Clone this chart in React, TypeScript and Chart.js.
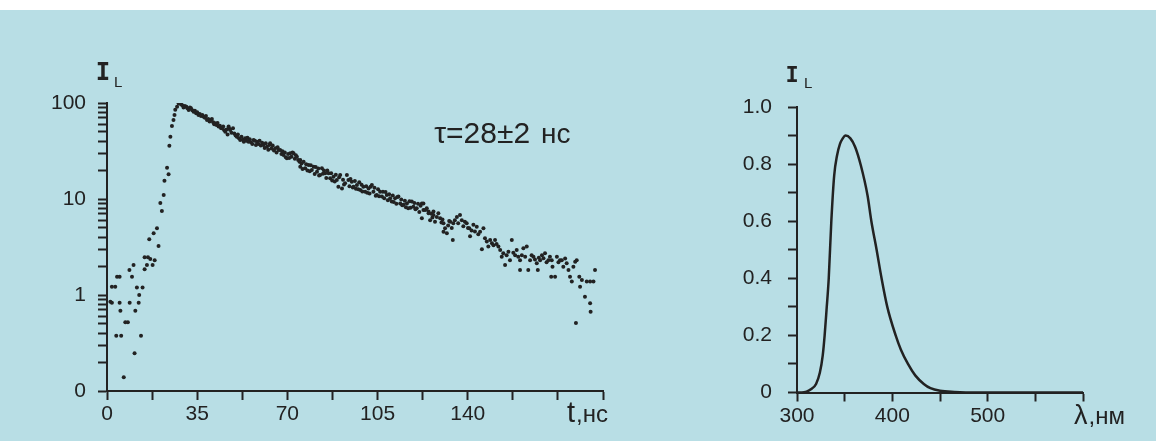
import React, { useEffect, useRef } from 'react';
import { Chart, registerables } from 'chart.js';

Chart.register(...registerables);

// ---------- DATA ----------
// Luminescence decay: [time (ns), intensity I_L]
const risePoints: [number, number][] = [
  [1.3, 0.85], [1.9, 1.22], [1.9, 0.83], [3.2, 1.22], [3.6, 0.377], [3.9, 1.55], [4.9, 1.55], [4.9, 0.83],
  [5.2, 0.686], [5.5, 0.377], [6.5, 0.139], [7.1, 0.52], [8.1, 0.52], [8.7, 1.82], [8.8, 0.83], [9.7, 1.55],
  [10.3, 2.05], [10.7, 0.247], [11.0, 0.686], [11.6, 1.2], [12.3, 0.83], [12.5, 1.0], [13.2, 0.377], [13.8, 1.2],
  [14.6, 2.47], [14.6, 1.85], [15.5, 2.05], [15.9, 2.47], [16.4, 3.8], [16.8, 2.37], [17.7, 2.05], [18.1, 4.4],
  [18.5, 2.3], [19.4, 4.95], [20.0, 3.24], [20.7, 9.1], [21.3, 7.5], [22.0, 11], [22.3, 15.5], [23.3, 21.2],
  [23.9, 18.1], [24.2, 35.8], [24.6, 44.5], [25.2, 57.6], [25.8, 66.6], [26.2, 75], [26.5, 85], [27.2, 91.5],
  [27.8, 99], [28.7, 97],
];

const decayPoints: [number, number][] = [
  [29.2, 95], [29.7, 89.5], [30.2, 93], [30.8, 91.5], [31.2, 88], [31.7, 84.5], [32.2, 90], [32.6, 88],
  [33.1, 84], [33.6, 81], [34.1, 83], [34.6, 78], [35.0, 80], [35.5, 75], [36.0, 77], [36.5, 73],
  [37.0, 75], [37.5, 72], [38.0, 70], [38.4, 73], [38.8, 66.6], [39.3, 68], [39.8, 64], [40.2, 66],
  [40.7, 68], [41.2, 63], [41.6, 60], [42.0, 61.6], [42.5, 59], [42.9, 62], [43.3, 56.9], [43.8, 58],
  [44.2, 55], [44.6, 54.7], [45.1, 57], [45.5, 52], [45.9, 50.3], [46.4, 53], [46.8, 47], [47.2, 57],
  [47.5, 54], [47.8, 52.2], [48.3, 49], [48.9, 54.7], [49.4, 48], [49.9, 46], [50.4, 44.6], [50.8, 47],
  [51.2, 43], [51.7, 41.1], [52.2, 44.5], [52.7, 41.5], [53.1, 39.5], [53.6, 42.9], [54.1, 40.5], [54.5, 43.5],
  [54.9, 39.5], [55.4, 42], [55.9, 39], [56.4, 37.5], [56.9, 41.1], [57.4, 40.5], [57.8, 36.5], [58.2, 39.5],
  [58.7, 37.5], [59.2, 40.5], [59.7, 36], [60.2, 38.5], [60.7, 36.5], [61.2, 34], [61.6, 38], [62.1, 35.1],
  [62.6, 32.5], [63.0, 36.5], [63.3, 38.0], [63.8, 33.5], [64.3, 36], [64.8, 32], [65.3, 33.7], [65.8, 30.5],
  [66.2, 34.5], [66.6, 32.4], [67.2, 32.4], [67.7, 29.5], [68.1, 31.5], [68.5, 28.7], [69.0, 30.5], [69.4, 27.2],
  [69.8, 26.5], [70.3, 29.5], [70.7, 26.8], [71.1, 29.9], [71.6, 27.5], [72.0, 30.5], [72.4, 29.9], [72.9, 26.2],
  [73.3, 28.5], [73.7, 27.6], [74.2, 25.5], [74.7, 24.5], [75.0, 25.5], [75.0, 21.7], [75.5, 23.5], [75.9, 20.5],
  [76.3, 24.5], [76.9, 20.9], [77.3, 23], [77.8, 19.8], [78.2, 22.6], [78.7, 19.5], [79.1, 22.5], [79.5, 20.0],
  [80.2, 21.7], [80.6, 18.2], [81.0, 21.5], [81.5, 19.2], [82.0, 20.8], [82.3, 17.6], [82.7, 17.8], [83.4, 20.9],
  [83.8, 18.3], [84.2, 19.8], [84.7, 18.5], [85.1, 16.5], [85.5, 19.8], [86.0, 18.5], [86.6, 16.4], [87.0, 18.6],
  [87.4, 15.6], [87.9, 17.1], [88.4, 15.2], [88.8, 17.9], [89.2, 15.8], [89.8, 13.4], [90.1, 16.8], [90.5, 17.8],
  [91.2, 12.9], [91.6, 15.9], [92.0, 14.2], [92.4, 14.6], [93.1, 17.8], [93.7, 15.8], [94.1, 13.6], [94.5, 16.2],
  [95.0, 15.1], [95.4, 13.2], [95.7, 13.4], [96.2, 15.4], [96.6, 12.8], [97.0, 14.0], [97.5, 12.6], [97.9, 14.9],
  [98.3, 12.4], [98.8, 14.1], [99.1, 12.0], [99.5, 13.4], [100.2, 11.9], [100.6, 13.6], [101.0, 11.6], [101.5, 12.9],
  [101.9, 11.4], [102.3, 13.4], [102.8, 14.0], [103.4, 11.9], [103.8, 13.1], [104.3, 10.8], [104.7, 11.0], [105.2, 12.6],
  [105.6, 10.7], [106.0, 11.9], [106.7, 10.6], [107.1, 11.9], [107.6, 10.2], [108.1, 11.8], [108.6, 11.0], [109.0, 9.7],
  [109.5, 11.2], [109.9, 10.2], [110.5, 9.4], [110.9, 10.9], [111.3, 9.3], [111.8, 10.2], [112.3, 8.9], [112.7, 10.5],
  [113.1, 10.6], [113.8, 9.0], [114.2, 9.9], [114.6, 8.6], [115.1, 8.7], [115.6, 9.6], [116.0, 8.2], [116.4, 9.0],
  [116.9, 8.0], [117.4, 9.5], [117.8, 8.1], [118.3, 9.4], [118.9, 8.3], [119.3, 9.1], [119.7, 7.8], [120.2, 8.0],
  [120.7, 8.9], [121.2, 7.3], [121.7, 8.5], [122.2, 9.0], [122.2, 6.3], [122.8, 7.7], [122.8, 9.0], [123.5, 7.7],
  [124.1, 8.0], [124.8, 7.4], [124.8, 7.1], [125.4, 6.0], [125.9, 7.0], [126.3, 6.4], [126.7, 6.8], [126.7, 7.4],
  [127.3, 5.8], [128.0, 6.5], [128.6, 7.1], [129.3, 6.3], [129.8, 5.7], [130.2, 6.1], [130.6, 5.6], [130.6, 4.57],
  [131.2, 4.95], [131.9, 4.4], [132.4, 5.3], [132.8, 5.9], [133.2, 5.8], [133.8, 5.0], [134.2, 3.74], [134.4, 5.6],
  [135.0, 6.0], [135.8, 6.5], [136.3, 5.6], [137.0, 6.8], [137.7, 6.0], [138.3, 5.2], [138.9, 5.8], [139.6, 5.6],
  [140.1, 5.0], [140.6, 4.95], [140.9, 4.1], [141.5, 4.7], [142.2, 5.4], [142.8, 4.6], [143.5, 5.15], [144.1, 4.3],
  [144.8, 4.57], [145.5, 3.0], [146.1, 4.95], [146.7, 3.9], [147.4, 3.6], [148.0, 3.2], [148.7, 3.74], [149.4, 3.45],
  [150.0, 3.3], [150.6, 3.74], [151.2, 3.4], [151.9, 3.2], [152.6, 2.94], [153.2, 2.5], [153.8, 2.72], [154.5, 2.05],
  [155.1, 2.6], [155.8, 2.83], [156.4, 2.3], [157.1, 3.74], [157.7, 2.75], [158.4, 2.6], [159.0, 2.94], [159.6, 2.5],
  [160.3, 2.3], [160.3, 1.82], [161.0, 2.6], [161.6, 3.06], [162.3, 2.5], [162.9, 3.2], [163.5, 1.82], [164.2, 2.3],
  [164.8, 2.6], [165.5, 2.5], [166.1, 2.35], [166.8, 2.14], [167.2, 1.82], [167.6, 2.45], [168.1, 2.3], [168.8, 2.6],
  [169.4, 2.41], [170.0, 2.72], [170.6, 2.2], [171.3, 2.3], [171.9, 2.5], [172.4, 1.55], [172.6, 2.3], [172.9, 1.97],
  [173.9, 1.55], [174.6, 2.5], [175.2, 2.2], [175.8, 2.3], [176.5, 2.3], [177.1, 1.97], [177.8, 2.4], [178.4, 2.14],
  [179.1, 1.82], [179.7, 1.55], [180.4, 1.38], [181.0, 1.97], [181.7, 2.22], [182.0, 0.51], [182.3, 2.3], [183.3, 1.55],
  [183.6, 1.22], [184.3, 1.43], [185.5, 0.96], [186.2, 1.38], [187.5, 1.38], [187.5, 0.82], [187.7, 0.67], [188.8, 1.38],
  [189.4, 1.82],
];

// Luminescence spectrum
const wavelengthNm = [
  300, 305, 310, 315, 320, 324, 327, 329, 331, 333.3, 336, 339, 342, 345, 348, 351, 356, 361, 367, 374, 378,
  383.5, 388.7, 394.7, 403.5, 409, 416.4, 424, 433, 440, 450, 465, 490, 550, 600,
];
const spectrumIntensity = [
  0, 0, 0.003, 0.012, 0.03, 0.07, 0.13, 0.2, 0.29, 0.4, 0.6, 0.76, 0.83, 0.87, 0.89, 0.9, 0.89, 0.86, 0.795, 0.69, 0.6,
  0.5, 0.4, 0.3, 0.2, 0.15, 0.1, 0.06, 0.03, 0.015, 0.006, 0.002, 0, 0, 0,
];

// Tick labels
const timeLabelValues = [0, 35, 70, 105, 140];
const logLabelValues = [0.1, 1, 10, 100];
const logLabelTexts = ['0', '1', '10', '100'];
const logTickValues = [
  0.1, 0.2, 0.3, 0.4, 0.5, 0.6, 0.7, 0.8, 0.9,
  1, 2, 3, 4, 5, 6, 7, 8, 9,
  10, 20, 30, 40, 50, 60, 70, 80, 90, 100,
];
const wavelengthLabelValues = [300, 400, 500];
const spectrumLabelValues = [0, 0.2, 0.4, 0.6, 0.8, 1.0];
const spectrumLabelTexts = ['0', '0.2', '0.4', '0.6', '0.8', '1.0'];

// ---------- STYLE ----------
const INK = '#222222';
const BG = '#b8dee5';
const FONT = '"Liberation Sans", Arial, sans-serif';

const axisCommon = {
  grid: {
    display: true,
    drawOnChartArea: false,
    drawTicks: true,
    tickLength: 9,
    tickWidth: 2,
    tickColor: INK,
  },
  border: { display: true, color: INK, width: 2 },
};

const leftTextPlugin = {
  id: 'leftText',
  afterDraw(chart: any) {
    const { ctx, chartArea, scales } = chart;
    const xs = scales.x;
    const ys = scales.y;
    ctx.save();
    ctx.fillStyle = INK;
    ctx.textBaseline = 'alphabetic';
    ctx.textAlign = 'center';
    ctx.font = 'bold 24px "DejaVu Sans Mono", monospace';
    ctx.fillText('I', chartArea.left - 4, chartArea.top - 23);
    ctx.textAlign = 'left';
    ctx.font = '15px ' + FONT;
    ctx.fillText('L', chartArea.left + 7, chartArea.top - 16);

    // tau annotation
    const tx = xs.getPixelForValue(127);
    const ty = ys.getPixelForValue(38);
    ctx.font = '30px ' + FONT;
    ctx.fillText('τ=28±2', tx, ty);
    const w = ctx.measureText('τ=28±2').width;
    ctx.font = '28px ' + FONT;
    ctx.fillText('нс', tx + w + 11, ty);

    // axis title t,нс
    const ax = xs.getPixelForValue(178.5);
    const ay = chartArea.bottom + 31;
    ctx.font = '29px ' + FONT;
    ctx.fillText('t', ax, ay);
    const tw = ctx.measureText('t').width;
    ctx.font = '24px ' + FONT;
    ctx.fillText(',нс', ax + tw + 1, ay);
    ctx.restore();
  },
};

const rightTextPlugin = {
  id: 'rightText',
  afterDraw(chart: any) {
    const { ctx, chartArea, scales } = chart;
    const xs = scales.x;
    ctx.save();
    ctx.fillStyle = INK;
    ctx.textBaseline = 'alphabetic';
    ctx.textAlign = 'center';
    ctx.font = 'bold 22px "DejaVu Sans Mono", monospace';
    ctx.fillText('I', chartArea.left - 5, chartArea.top - 25);
    ctx.textAlign = 'left';
    ctx.font = '15px ' + FONT;
    ctx.fillText('L', chartArea.left + 7, chartArea.top - 19);

    const ax = xs.getPixelForValue(600) - 9;
    const ay = chartArea.bottom + 31;
    ctx.font = '27px ' + FONT;
    ctx.fillText('λ', ax, ay);
    const lw = ctx.measureText('λ').width;
    ctx.font = '24px ' + FONT;
    ctx.fillText(',нм', ax + lw + 1, ay);
    ctx.restore();
  },
};

function DecayChart() {
  const ref = useRef<HTMLCanvasElement | null>(null);
  useEffect(() => {
    if (!ref.current) return;
    const pts = risePoints.concat(decayPoints).map(([x, y]) => ({ x, y }));
    const chart = new Chart(ref.current, {
      type: 'scatter',
      data: {
        datasets: [
          {
            data: pts,
            pointRadius: 2,
            pointHoverRadius: 2,
            backgroundColor: INK,
            borderWidth: 0,
          },
        ],
      },
      options: {
        animation: false,
        responsive: false,
        devicePixelRatio: 1,
        events: [],
        layout: { padding: { top: 103, right: 57, left: 0, bottom: 0 } },
        plugins: { legend: { display: false }, tooltip: { enabled: false } },
        scales: {
          x: {
            type: 'linear',
            min: 0,
            max: 192.5,
            afterFit: (s: any) => { s.height = 50; },
            ticks: {
              stepSize: 17.5,
              autoSkip: false,
              maxRotation: 0,
              padding: 2,
              color: INK,
              font: { family: FONT, size: 21 },
              callback: (v: any) => (timeLabelValues.some((t) => Math.abs(t - v) < 1e-6) ? String(Math.round(v)) : ''),
            },
            ...axisCommon,
          },
          y: {
            type: 'logarithmic',
            min: 0.1,
            max: 100,
            afterFit: (s: any) => { s.width = 107; },
            afterBuildTicks: (s: any) => {
              s.ticks = logTickValues.map((v) => ({ value: v }));
            },
            ticks: {
              autoSkip: false,
              padding: 12,
              color: INK,
              font: { family: FONT, size: 21 },
              callback: (v: any) => {
                const i = logLabelValues.findIndex((t) => Math.abs(t - v) / t < 1e-6);
                return i >= 0 ? logLabelTexts[i] : '';
              },
            },
            ...axisCommon,
          },
        },
      },
      plugins: [leftTextPlugin],
    } as any);
    return () => chart.destroy();
  }, []);
  return <canvas ref={ref} width={660} height={441} style={{ position: 'absolute', left: 0, top: 0, width: 660, height: 441 }} />;
}

function SpectrumChart() {
  const ref = useRef<HTMLCanvasElement | null>(null);
  useEffect(() => {
    if (!ref.current) return;
    const pts = wavelengthNm.map((x, i) => ({ x, y: spectrumIntensity[i] }));
    const chart = new Chart(ref.current, {
      type: 'line',
      data: {
        datasets: [
          {
            data: pts,
            borderColor: INK,
            borderWidth: 2.5,
            pointRadius: 0,
            fill: false,
            cubicInterpolationMode: 'monotone',
          },
        ],
      },
      options: {
        animation: false,
        responsive: false,
        devicePixelRatio: 1,
        events: [],
        layout: { padding: { top: 107, right: 73, left: 0, bottom: 0 } },
        plugins: { legend: { display: false }, tooltip: { enabled: false } },
        scales: {
          x: {
            type: 'linear',
            min: 300,
            max: 600,
            afterFit: (s: any) => { s.height = 48.5; },
            ticks: {
              stepSize: 50,
              autoSkip: false,
              maxRotation: 0,
              padding: 2,
              color: INK,
              font: { family: FONT, size: 21 },
              callback: (v: any) => (wavelengthLabelValues.some((t) => Math.abs(t - v) < 1e-6) ? String(Math.round(v)) : ''),
            },
            ...axisCommon,
          },
          y: {
            type: 'linear',
            min: 0,
            max: 1,
            afterFit: (s: any) => { s.width = 137; },
            ticks: {
              stepSize: 0.1,
              autoSkip: false,
              padding: 16,
              color: INK,
              font: { family: FONT, size: 21 },
              callback: (v: any) => {
                const i = spectrumLabelValues.findIndex((t) => Math.abs(t - v) < 1e-6);
                return i >= 0 ? spectrumLabelTexts[i] : '';
              },
            },
            ...axisCommon,
          },
        },
      },
      plugins: [rightTextPlugin],
    } as any);
    return () => chart.destroy();
  }, []);
  return <canvas ref={ref} width={496} height={441} style={{ position: 'absolute', left: 660, top: 0, width: 496, height: 441 }} />;
}

export default function App() {
  return (
    <div style={{ position: 'fixed', left: 0, top: 0, width: 1156, height: 441, background: '#ffffff', overflow: 'hidden' }}>
      <div style={{ position: 'absolute', left: 0, top: 10, width: 1156, height: 431, background: BG }} />
      <DecayChart />
      <SpectrumChart />
    </div>
  );
}
